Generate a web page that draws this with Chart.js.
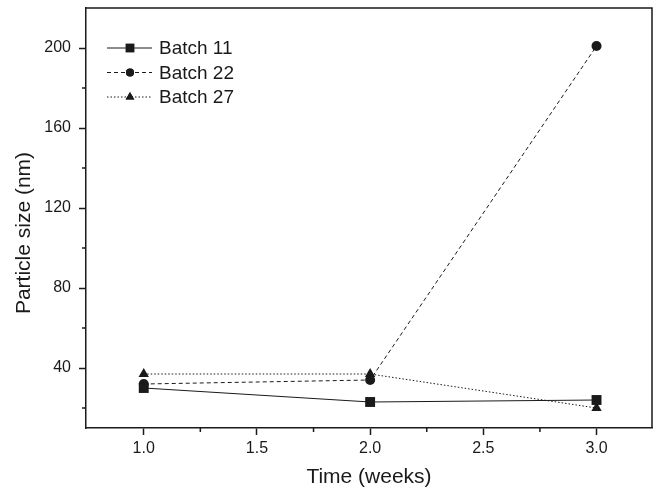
<!DOCTYPE html>
<html>
<head>
<meta charset="utf-8">
<script src="https://cdn.jsdelivr.net/npm/chart.js@4.4.1/dist/chart.umd.min.js"></script>
<style>
  html, body { margin: 0; padding: 0; background: #fff; }
  #wrap { width: 659px; height: 491px; }
</style>
</head>
<body>
<div id="wrap"><canvas id="chart" width="659" height="491"></canvas></div>
<script>
// Data
const weeks = [1.0, 2.0, 3.0];
const batch11 = [30, 23, 24];
const batch22 = [32, 34, 201];
const batch27 = [37, 37, 20];
const seriesNames = ['Batch 11', 'Batch 22', 'Batch 27'];
const yTitle = 'Particle size (nm)';

// Axis ticks
const xTicks = [1.0, 1.5, 2.0, 2.5, 3.0];
const xMinor = [1.25, 1.75, 2.25, 2.75];
const yTicks = [40, 80, 120, 160, 200];
const yMinor = [20, 60, 100, 140, 180];

const ink = '#1a1a1a';
const fam = '"Liberation Sans", Arial, sans-serif';
const toPts = vals => weeks.map((w, i) => ({ x: w, y: vals[i] }));

function series(label, vals, marker, dash, size) {
    return {
        label: label, data: toPts(vals),
        borderColor: ink, backgroundColor: ink, borderWidth: 1, borderDash: dash,
        pointStyle: marker, pointRadius: size, pointBorderWidth: 0,
        pointBackgroundColor: ink, tension: 0
    };
}

// Minor ticks, frame, y title and legend
const extras = {
    id: 'extras',
    afterDraw(chart) {
        const { ctx, chartArea: a, scales: { x, y } } = chart;
        ctx.save();
        ctx.strokeStyle = ink;
        ctx.lineWidth = 1.5;
        ctx.beginPath();
        xMinor.forEach(v => { const px = x.getPixelForValue(v); ctx.moveTo(px, a.bottom); ctx.lineTo(px, a.bottom + 4); });
        yMinor.forEach(v => { const py = y.getPixelForValue(v); ctx.moveTo(a.left, py); ctx.lineTo(a.left - 4, py); });
        ctx.stroke();
        // frame top/right
        ctx.beginPath();
        ctx.moveTo(a.left, a.top); ctx.lineTo(a.right, a.top); ctx.lineTo(a.right, a.bottom);
        ctx.stroke();

        // y title, sits a little below the axis middle
        ctx.fillStyle = ink;
        ctx.save();
        ctx.translate(24, (a.top + a.bottom) / 2 + 15);
        ctx.rotate(-Math.PI / 2);
        ctx.font = '21px ' + fam;
        ctx.textAlign = 'center';
        ctx.textBaseline = 'middle';
        ctx.fillText(yTitle, 0, 0);
        ctx.restore();

        // legend
        const x0 = a.left + 21, x1 = a.left + 66, xm = a.left + 44, xt = a.left + 73;
        ctx.font = '19px ' + fam;
        ctx.textBaseline = 'middle';
        chart.data.datasets.forEach((ds, i) => {
            const ly = a.top + 40 + i * 24.5;
            ctx.lineWidth = 1;
            ctx.setLineDash(ds.borderDash);
            ctx.beginPath(); ctx.moveTo(x0, ly); ctx.lineTo(x1, ly); ctx.stroke();
            ctx.setLineDash([]);
            Chart.helpers.drawPoint(ctx, { pointStyle: ds.pointStyle, radius: ds.pointRadius - 1, borderWidth: 0 }, xm, ly);
            ctx.fill();
            ctx.fillText(seriesNames[i], xt, ly + 1);
        });
        ctx.restore();
    }
};

const font = { family: fam };

new Chart(document.getElementById('chart'), {
    type: 'line',
    data: {
        datasets: [
            series(seriesNames[0], batch11, 'rect', [], 7),
            series(seriesNames[1], batch22, 'circle', [4, 3], 5),
            series(seriesNames[2], batch27, 'triangle', [1.5, 2], 6)
        ]
    },
    options: {
        responsive: false,
        animation: false,
        layout: { padding: { left: 0, right: 7, top: 8, bottom: 0 } },
        plugins: { legend: { display: false }, tooltip: { enabled: false } },
        scales: {
            x: {
                type: 'linear', min: 0.745, max: 3.245,
                afterBuildTicks: s => { s.ticks = xTicks.map(v => ({ value: v })); },
                afterFit: s => { s.height = 63; s.paddingLeft = 0; s.paddingRight = 0; },
                ticks: { color: ink, font: { ...font, size: 16 }, padding: 4, callback: v => v.toFixed(1), maxRotation: 0 },
                grid: { drawOnChartArea: false, tickLength: 7, tickColor: ink, tickWidth: 1.5 },
                border: { color: ink, width: 1.5 },
                title: { display: true, text: 'Time (weeks)', color: ink, font: { ...font, size: 21 }, padding: { top: 0, bottom: 1 } }
            },
            y: {
                type: 'linear', min: 10, max: 220,
                afterBuildTicks: s => { s.ticks = yTicks.map(v => ({ value: v })); },
                afterFit: s => { s.width = 86; s.paddingTop = 0; s.paddingBottom = 0; },
                ticks: { color: ink, font: { ...font, size: 16 }, padding: 8 },
                grid: { drawOnChartArea: false, tickLength: 7, tickColor: ink, tickWidth: 1.5 },
                border: { color: ink, width: 1.5 },
                title: { display: false }
            }
        }
    },
    plugins: [extras]
});
</script>
</body>
</html>
